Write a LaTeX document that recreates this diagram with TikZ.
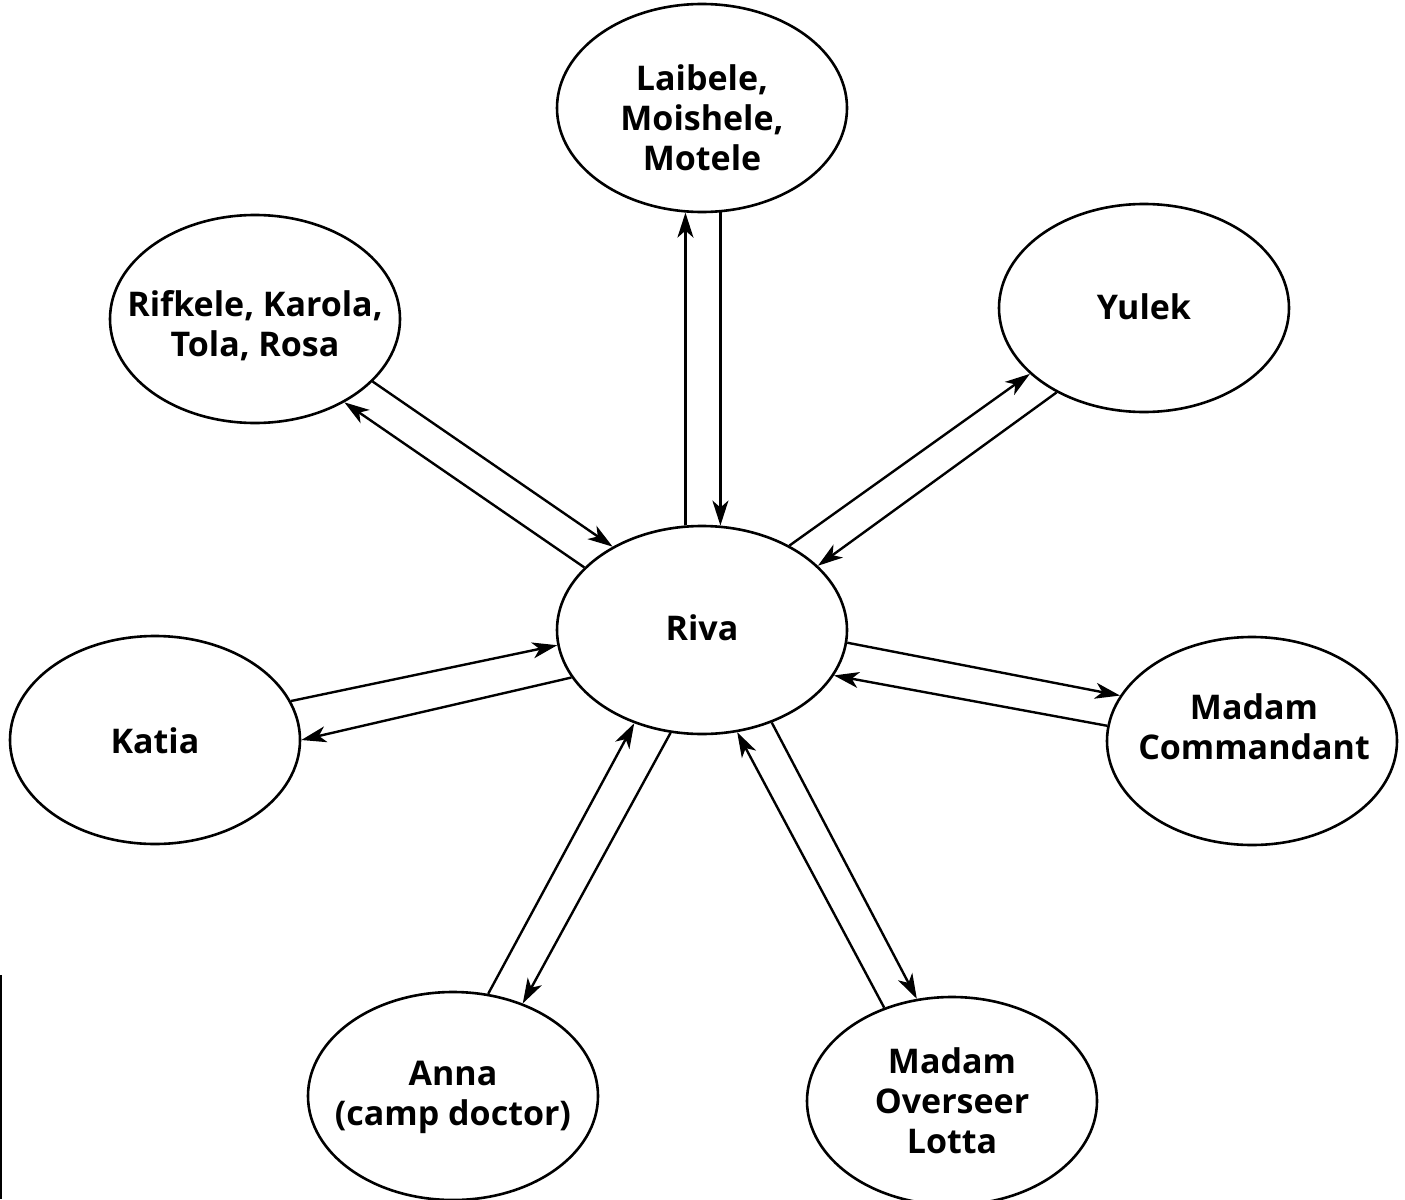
\documentclass[tikz,border=0pt]{standalone}
\usepackage{fontspec}
\setmainfont{Open Sans}
\usetikzlibrary{shapes.geometric,arrows.meta}
\begin{document}
\begin{tikzpicture}[x=1pt,y=-1pt,
  person/.style={draw, ellipse, line width=2.6pt, minimum width=290pt, minimum height=208pt, inner sep=0pt},
  lbl/.style={align=center, font=\fontsize{34}{40}\selectfont\bfseries, inner sep=0pt},
  link/.style={line width=2.4pt, -{Stealth[length=25pt,width=16pt,inset=7pt]}}
]
\useasboundingbox (0,0) rectangle (1405,1199);
\node[person] (L) at (702,108) {};
\node[person] (R) at (702,630) {};
\node[person] (F) at (255,319) {};
\node[person] (Y) at (1144,308) {};
\node[person] (K) at (155,740) {};
\node[person] (C) at (1252,741) {};
\node[person] (A) at (453,1096) {};
\node[person] (O) at (952,1101) {};

\node[lbl] (Lt) at (702,118) {Laibele,\\Moishele,\\Motele};
\node[lbl] (Rt) at (702,628) {Riva};
\node[lbl] (Ft) at (255,326) {Rifkele, Karola,\\Tola, Rosa};
\node[lbl] (Yt) at (1144,307) {Yulek};
\node[lbl] (Kt) at (155,741) {Katia};
\node[lbl] (Ct) at (1254,727) {Madam\\Commandant};
\node[lbl] (At) at (453,1097) {Anna\\(camp doctor)};
\node[lbl] (Ot) at (952,1101) {Madam\\Overseer\\Lotta};

\draw[link] (R.99.35) -- (L.-99.35);
\draw[link] (L.-80.65) -- (R.80.65);
\draw[link] (F.-28.3) -- (R.137);
\draw[link] (R.152.1) -- (F.-43.7);
\draw[link] (R.44.3) -- (Y.-150.9);
\draw[link] (Y.-136.3) -- (R.29.5);
\draw[link] (K.16.7) -- (R.-174.1);
\draw[link] (R.-160.9) -- (K.0.8);
\draw[link] (R.-5.6) -- (C.161.9);
\draw[link] (C.174.9) -- (R.-19.7);
\draw[link] (A.71.7) -- (R.-126.4);
\draw[link] (R.-107.8) -- (A.53.7);
\draw[link] (R.-53) -- (O.109.8);
\draw[link] (O.126.6) -- (R.-71.2);

\draw[line width=2pt] (1,975) -- (1,1199);
\end{tikzpicture}
\end{document}
